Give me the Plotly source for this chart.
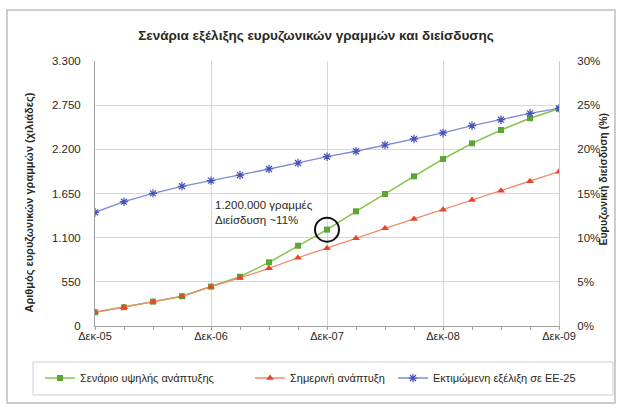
import plotly.graph_objects as go

# ---------------- data ----------------
quarters = list(range(17))  # Dec-05 ... Dec-09, quarterly
tick_idx = [0, 4, 8, 12, 16]
x_labels = ["Δεκ-05", "Δεκ-06", "Δεκ-07", "Δεκ-08", "Δεκ-09"]

high_growth = [171, 233, 303, 370, 490, 614, 793, 1000, 1200, 1428, 1644,
               1864, 2080, 2275, 2441, 2587, 2705]
current_growth = [171, 233, 303, 370, 490, 598, 718, 850, 967, 1092, 1217,
                  1333, 1449, 1569, 1685, 1802, 1922]
eu25_estimate = [1416, 1548, 1652, 1740, 1810, 1880, 1955, 2030, 2108, 2176,
                 2254, 2329, 2404, 2494, 2569, 2649, 2711]

y_ticks = [0, 550, 1100, 1650, 2200, 2750, 3300]
y_labels = ["0", "550", "1.100", "1.650", "2.200", "2.750", "3.300"]
pct_ticks = [0, 0.05, 0.10, 0.15, 0.20, 0.25, 0.30]
pct_labels = ["0%", "5%", "10%", "15%", "20%", "25%", "30%"]

names = ["Σενάριο υψηλής ανάπτυξης", "Σημερινή ανάπτυξη", "Εκτιμώμενη εξέλιξη σε ΕΕ-25"]
highlight_idx = 8
note_text = "1.200.000 γραμμές<br>Διείσδυση ~11%"

# ---------------- layout geometry (pixels) ----------------
W, H = 619, 412
L, R, T, B = 95, 559, 61, 326
pw, ph = R - L, B - T
def px(x): return (x - L) / pw
def py(y): return (B - y) / ph

FONT = "Liberation Sans, Arial, sans-serif"
TXT = "#2a2a22"

fig = go.Figure()
fig.add_trace(go.Scatter(
    x=quarters, y=high_growth, name=names[0], mode="lines+markers",
    line=dict(color="#86c34a", width=1.5),
    marker=dict(symbol="square", size=6, color="#5aa832", line=dict(width=0)),
    legend="legend"))
fig.add_trace(go.Scatter(
    x=quarters, y=current_growth, name=names[1], mode="lines+markers",
    line=dict(color="#f08a6a", width=1.3),
    marker=dict(symbol="triangle-up", size=7, color="#e8452c", line=dict(width=0)),
    legend="legend2"))
fig.add_trace(go.Scatter(
    x=quarters, y=eu25_estimate, name=names[2], mode="lines+markers",
    line=dict(color="#7f8bd6", width=1.3),
    marker=dict(symbol="asterisk-open", size=7, color="#4352b8", line=dict(width=1.2, color="#4352b8")),
    legend="legend3"))
# invisible trace to activate right axis
fig.add_trace(go.Scatter(x=[quarters[0]], y=[pct_ticks[0]], yaxis="y2", mode="markers",
                         marker=dict(opacity=0), showlegend=False, hoverinfo="skip"))

# circle around highlighted point
cx, cy = quarters[highlight_idx], high_growth[highlight_idx]
rx = 12 / pw * 16
ry = 12 / ph * 3300
shapes = [
    dict(type="circle", xref="x", yref="y", x0=cx - rx, x1=cx + rx,
         y0=cy - ry, y1=cy + ry, line=dict(color="#111111", width=2)),
    # outer chart border
    dict(type="rect", xref="paper", yref="paper", x0=px(7), x1=px(615),
         y0=py(403), y1=py(10), line=dict(color="#bdbdbd", width=1.5), layer="below"),
    # legend border
    dict(type="rect", xref="paper", yref="paper", x0=px(33), x1=px(613),
         y0=py(395), y1=py(362), line=dict(color="#d0d0d0", width=1), layer="below"),
]

annotations = [
    dict(text=note_text, x=px(213), y=py(212), xref="paper", yref="paper",
         xanchor="left", yanchor="middle", align="left", showarrow=False,
         font=dict(size=11.5, color=TXT, family=FONT)),
    dict(text="<b>Αριθμός ευρυζωνικών γραμμών (χιλιάδες)</b>", x=px(20), y=py(203),
         xref="paper", yref="paper", textangle=-90, showarrow=False,
         font=dict(size=11, color=TXT, family=FONT)),
    dict(text="<b>Ευρυζωνική διείσδυση (%)</b>", x=px(611), y=py(180),
         xref="paper", yref="paper", textangle=-90, showarrow=False,
         font=dict(size=10.5, color=TXT, family=FONT)),
]

leg_common = dict(orientation="h", yanchor="middle", xanchor="left",
                  bgcolor="rgba(0,0,0,0)", borderwidth=0,
                  font=dict(size=11, color=TXT, family=FONT))
fig.update_layout(
    width=W, height=H,
    margin=dict(l=L, r=W - R, t=T, b=H - B, autoexpand=False),
    paper_bgcolor="white", plot_bgcolor="white",
    font=dict(family=FONT, color=TXT, size=11),
    title=dict(text="<b>Σενάρια εξέλιξης ευρυζωνικών γραμμών και διείσδυσης</b>",
               xref="container", yref="container",
               x=316 / W, xanchor="center", y=1 - 35 / H, yanchor="middle",
               font=dict(size=13.5, color=TXT, family=FONT)),
    xaxis=dict(range=[0, 16], tickvals=tick_idx, ticktext=x_labels,
               showgrid=True, gridcolor="#d6d6d6", gridwidth=1,
               showline=True, linecolor="#a0a0a0", linewidth=1,
               zeroline=False, ticks="", tickfont=dict(size=11),
               minor=dict(dtick=1, ticks="outside", ticklen=3, tickcolor="#a0a0a0",
                          showgrid=False)),
    yaxis=dict(range=[0, 3300], tickvals=y_ticks, ticktext=y_labels,
               showgrid=True, gridcolor="#d6d6d6", gridwidth=1,
               showline=True, linecolor="#a0a0a0", linewidth=1,
               zeroline=False, ticks="", ticklabelstandoff=11,
               tickfont=dict(size=11.5)),
    yaxis2=dict(range=[0, 0.30], tickvals=pct_ticks, ticktext=pct_labels,
                overlaying="y", side="right", showgrid=False, zeroline=False,
                showline=True, linecolor="#c8c8c8", ticks="", ticklabelstandoff=15,
                tickfont=dict(size=11.5)),
    legend=dict(x=px(40), y=py(378), **leg_common),
    legend2=dict(x=px(250), y=py(378), **leg_common),
    legend3=dict(x=px(393), y=py(378), **leg_common),
    shapes=shapes, annotations=annotations,
)

fig.write_html("out.html", config={"displayModeBar": False},
               post_script="document.body.style.margin='0';document.body.style.padding='0';")
